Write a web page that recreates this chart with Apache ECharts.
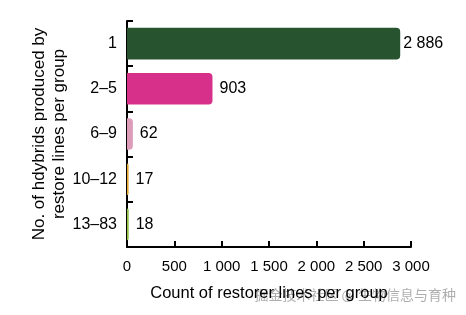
<!DOCTYPE html>
<html><head><meta charset="utf-8">
<script src="https://cdn.jsdelivr.net/npm/echarts@6/dist/echarts.min.js"></script>
<style>html,body{margin:0;padding:0;background:#fff}#c{width:466px;height:315px}</style>
</head><body><div id="c"></div>
<script>
const categories = ['1', '2–5', '6–9', '10–12', '13–83'];
const values = [2886, 903, 62, 17, 18];
const barColors = ['#28532f', '#d6308a', '#dc9cba', '#e0a832', '#8fc244'];
const xTicks = [0, 500, 1000, 1500, 2000, 2500, 3000];
const fmt = v => String(v).replace(/\B(?=(\d{3})+(?!\d))/g, ' ');
const font = 'Liberation Sans, Arial, sans-serif';
const chart = echarts.init(document.getElementById('c'), null, {renderer: 'canvas'});
chart.setOption({
  animation: false,
  grid: {left: 127, top: 21, right: 55, bottom: 68},
  xAxis: {
    type: 'value', min: xTicks[0], max: xTicks[xTicks.length - 1], interval: 500,
    name: 'Count of restorer lines per group', nameLocation: 'middle', nameGap: 38,
    nameMoveOverlap: false,
    nameTextStyle: {fontFamily: font, fontSize: 16.5, color: '#000'},
    axisLine: {show: true, lineStyle: {color: '#000', width: 2}},
    axisTick: {show: true, inside: true, length: 6, lineStyle: {color: '#000', width: 2}},
    axisLabel: {formatter: fmt, fontFamily: font, fontSize: 15, color: '#000', margin: 12},
    splitLine: {show: false}
  },
  yAxis: {
    type: 'category', data: categories, inverse: true,
    name: 'No. of hdybrids produced by\nrestore lines per group', nameLocation: 'middle', nameGap: 58,
    nameMoveOverlap: false,
    nameTextStyle: {fontFamily: font, fontSize: 17, color: '#000', lineHeight: 20},
    axisLine: {show: true, lineStyle: {color: '#000', width: 2}},
    axisTick: {show: true, inside: true, length: 6, lineStyle: {color: '#000', width: 2}},
    axisLabel: {fontFamily: font, fontSize: 16, color: '#000', margin: 10}
  },
  series: [{
    type: 'bar', barCategoryGap: '30%',
    data: values.map((v, i) => ({value: v, itemStyle: {color: barColors[i], borderRadius: [0, 4, 4, 0]},
      label: {distance: i === 0 ? 3 : 7}})),
    label: {show: true, position: 'right', formatter: p => fmt(p.value),
      fontFamily: font, fontSize: 16, color: '#000'}
  }],
  graphic: [{
    type: 'text', right: 10, top: 288,
    style: {text: '掘金技术社区 @ 生物信息与育种', fill: 'rgba(120,120,120,0.6)',
      font: '14px "Noto Sans CJK SC", sans-serif'}
  }]
});
</script></body></html>
